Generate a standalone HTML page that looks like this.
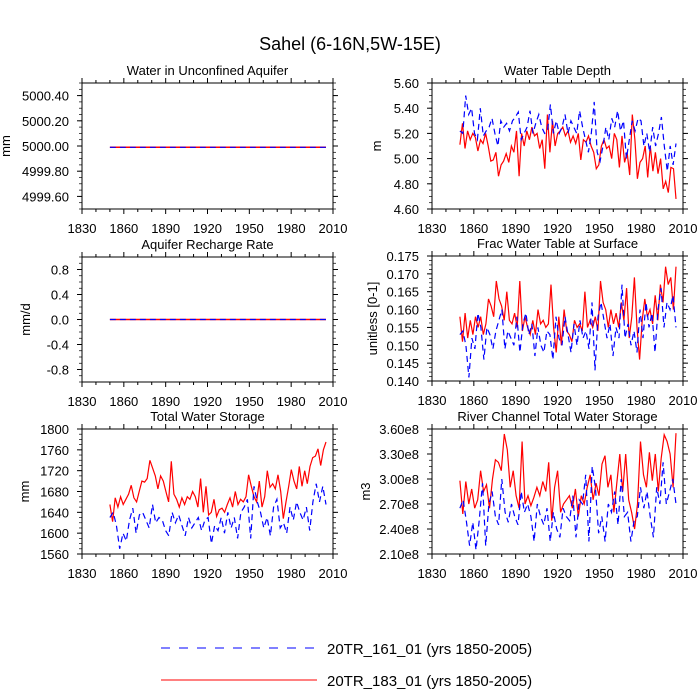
<!DOCTYPE html>
<html><head><meta charset="utf-8"><style>
body{margin:0;background:#fff}
svg{display:block;font-family:"Liberation Sans",Arial,sans-serif}
</style></head><body>
<svg id="c" width="700" height="700" viewBox="0 0 700 700">
<text x="350" y="50" font-size="18" text-anchor="middle">Sahel (6-16N,5W-15E)</text>
<g>
<line x1="161" y1="648" x2="317" y2="648" stroke="#00f" stroke-width="1" stroke-dasharray="9,9"/>
<text x="327" y="654" font-size="15">20TR_161_01 (yrs 1850-2005)</text>
<line x1="161" y1="680" x2="317" y2="680" stroke="#f00" stroke-width="1"/>
<text x="327" y="686" font-size="15">20TR_183_01 (yrs 1850-2005)</text>
</g>
</svg>
<script>
const xTicks=[1830,1860,1890,1920,1950,1980,2010];
const aquiferRed=[4999.99,4999.99,4999.99];
const aquiferBlue=[4999.99,4999.99,4999.99];
const rechargeRed=[0,0,0];
const rechargeBlue=[0,0,0];
const wtdRed=[5.11,5.28,5.08,5.22,5.15,5.20,5.17,5.06,5.15,5.12,5.20,5.10,4.98,4.99,5.05,4.86,4.95,4.98,5.04,4.97,5.10,5.05,5.22,4.86,5.20,5.10,5.22,5.15,5.25,5.18,5.20,5.08,5.15,4.92,5.35,5.05,5.30,5.10,5.20,5.22,5.25,5.18,5.22,5.13,5.18,5.12,5.20,4.99,5.15,5.13,5.18,5.10,5.05,4.92,4.95,5.10,5.15,5.08,5.10,5.00,5.20,5.15,4.93,5.18,4.97,5.05,4.87,5.35,5.15,4.84,4.97,5.00,5.10,4.85,5.10,4.90,5.05,4.88,5.00,4.76,4.82,4.73,4.93,4.92,4.68];
const wtdBlue=[5.22,5.20,5.50,5.35,5.40,5.20,5.15,5.40,5.18,5.22,5.25,5.32,5.20,5.10,5.30,5.25,5.28,5.22,5.30,5.33,5.37,5.15,5.20,5.25,5.38,5.20,5.28,5.35,5.25,5.20,5.22,5.43,5.20,5.30,5.20,5.25,5.35,5.20,5.30,5.25,5.20,5.38,5.25,5.15,5.05,5.20,5.45,5.05,4.98,5.10,5.25,5.15,5.32,5.25,5.38,5.22,5.30,5.00,5.15,5.30,5.22,5.32,5.30,5.10,5.20,5.05,5.25,5.10,5.20,5.33,5.10,4.90,5.10,4.95,5.12];
const fracRed=[0.158,0.151,0.159,0.152,0.157,0.153,0.158,0.155,0.158,0.153,0.156,0.163,0.161,0.158,0.168,0.163,0.161,0.157,0.165,0.157,0.156,0.159,0.155,0.168,0.154,0.158,0.155,0.153,0.157,0.153,0.160,0.156,0.157,0.155,0.156,0.167,0.155,0.148,0.158,0.150,0.160,0.154,0.153,0.151,0.157,0.155,0.156,0.154,0.165,0.155,0.157,0.155,0.158,0.154,0.168,0.162,0.160,0.155,0.160,0.156,0.159,0.155,0.162,0.157,0.166,0.152,0.158,0.169,0.155,0.146,0.157,0.163,0.158,0.160,0.156,0.164,0.157,0.167,0.162,0.172,0.167,0.169,0.160,0.172];
const fracBlue=[0.153,0.154,0.150,0.141,0.152,0.149,0.159,0.155,0.146,0.155,0.153,0.149,0.154,0.157,0.160,0.149,0.154,0.152,0.150,0.158,0.148,0.156,0.159,0.153,0.156,0.147,0.155,0.150,0.148,0.154,0.153,0.146,0.158,0.152,0.150,0.158,0.153,0.148,0.156,0.150,0.157,0.152,0.154,0.149,0.162,0.143,0.158,0.162,0.157,0.152,0.156,0.147,0.155,0.152,0.167,0.152,0.156,0.150,0.154,0.148,0.160,0.152,0.162,0.155,0.159,0.148,0.160,0.166,0.155,0.162,0.160,0.164,0.155];
const twsRed=[1655,1622,1668,1650,1670,1655,1665,1675,1692,1668,1660,1680,1700,1698,1705,1740,1725,1710,1685,1710,1700,1680,1660,1738,1675,1665,1650,1668,1655,1670,1665,1680,1670,1650,1705,1640,1690,1635,1640,1665,1632,1645,1648,1640,1655,1668,1650,1680,1655,1665,1660,1670,1712,1690,1670,1660,1700,1650,1670,1720,1688,1695,1685,1712,1680,1628,1660,1690,1722,1700,1685,1728,1690,1720,1695,1728,1745,1748,1762,1730,1760,1775];
const twsBlue=[1630,1640,1615,1570,1600,1585,1625,1648,1600,1635,1640,1625,1610,1655,1620,1630,1625,1605,1595,1640,1620,1635,1615,1595,1630,1610,1620,1630,1605,1625,1630,1580,1615,1605,1630,1600,1640,1610,1630,1590,1640,1650,1665,1590,1690,1660,1640,1610,1630,1595,1650,1665,1610,1620,1600,1650,1625,1660,1640,1625,1650,1605,1660,1695,1660,1690,1655];
const riverRed=[2.98,2.58,2.97,2.70,2.88,2.65,2.75,3.10,2.85,2.93,2.65,3.00,3.23,3.20,3.10,3.54,3.35,2.90,3.10,2.80,2.65,3.45,2.70,2.80,2.68,2.78,2.90,2.80,2.97,2.85,3.20,2.50,2.90,3.10,2.60,2.70,2.75,2.80,2.65,2.88,2.55,2.80,2.70,2.90,3.05,2.75,2.95,2.80,3.18,3.28,2.90,3.05,2.60,2.95,3.30,2.85,3.30,2.75,2.60,2.40,2.70,3.45,3.05,2.90,3.32,2.98,3.30,2.85,3.25,3.53,3.45,3.30,2.90,3.55];
const riverBlue=[2.65,2.75,2.50,2.20,2.48,2.15,2.50,2.95,2.20,2.70,2.85,2.55,2.45,3.00,2.60,2.48,2.70,2.55,2.45,2.85,2.60,2.70,2.55,2.25,2.70,2.55,2.45,2.65,2.25,2.60,2.40,2.30,2.65,2.55,2.50,2.80,2.30,2.75,2.70,3.05,2.25,3.15,2.90,2.35,2.55,2.25,2.70,2.60,2.85,2.45,3.00,2.55,2.60,2.25,2.50,2.55,2.90,2.65,2.85,2.55,2.30,2.90,2.70,3.20,2.70,2.85,3.00,2.70];
const ticksAquifer=[4999.6,4999.8,5000.0,5000.2,5000.4];
const ticksWtd=[4.6,4.8,5.0,5.2,5.4,5.6];
const ticksRecharge=[-0.8,-0.4,0,0.4,0.8];
const ticksFrac=[0.140,0.145,0.150,0.155,0.160,0.165,0.170,0.175];
const ticksTws=[1560,1600,1640,1680,1720,1760,1800];
const ticksRiver=[2.1,2.4,2.7,3.0,3.3,3.6];

const NS='http://www.w3.org/2000/svg';
const svg=document.getElementById('c');
function mk(tag,attrs,parent){const e=document.createElementNS(NS,tag);for(const k in attrs)e.setAttribute(k,attrs[k]);(parent||svg).appendChild(e);return e;}
const panels=[
 {name:'aquifer',title:'Water in Unconfined Aquifer',yl:'mm',x0:82,y0:83,y1:209,min:4999.5,max:5000.5,ticks:ticksAquifer,fmt:v=>v.toFixed(2),red:aquiferRed,blue:aquiferBlue,ylx:10,flat:true},
 {name:'wtd',title:'Water Table Depth',yl:'m',x0:432,y0:83,y1:209,min:4.6,max:5.6,ticks:ticksWtd,fmt:v=>v.toFixed(2),red:wtdRed,blue:wtdBlue,ylx:381},
 {name:'recharge',title:'Aquifer Recharge Rate',yl:'mm/d',x0:82,y0:257,y1:382,min:-1,max:1,ticks:ticksRecharge,fmt:v=>v.toFixed(1),red:rechargeRed,blue:rechargeBlue,ylx:30,flat:true},
 {name:'frac',title:'Frac Water Table at Surface',yl:'unitless [0-1]',x0:432,y0:256,y1:381,min:0.14,max:0.175,ticks:ticksFrac,fmt:v=>v.toFixed(3),red:fracRed,blue:fracBlue,ylx:377},
 {name:'tws',title:'Total Water Storage',yl:'mm',x0:82,y0:429,y1:554,min:1560,max:1800,ticks:ticksTws,fmt:v=>String(v),red:twsRed,blue:twsBlue,ylx:29},
 {name:'river',title:'River Channel Total Water Storage',yl:'m3',x0:432,y0:429,y1:554,min:2.1,max:3.6,ticks:ticksRiver,fmt:v=>v.toFixed(2)+'e8',red:riverRed,blue:riverBlue,ylx:370}
];
panels.forEach(p=>{
 const W=251,x1=p.x0+W;
 const g=mk('g',{});
 
 
 const xs=y=>p.x0+(y-1830)/180*W;
 const ys=v=>p.y1-(v-p.min)/(p.max-p.min)*(p.y1-p.y0);
 const t=mk('text',{x:(p.x0+x1)/2,y:p.y0-8,'font-size':13,'text-anchor':'middle'},g);t.textContent=p.title;
 
 
 const yt=mk('text',{x:p.ylx,y:(p.y0+p.y1)/2,'font-size':13,'text-anchor':'middle',transform:`rotate(-90 ${p.ylx} ${(p.y0+p.y1)/2})`},g);yt.textContent=p.yl;
 
 
 xTicks.forEach(v=>{
  const x=xs(v);
  mk('line',{x1:x,x2:x,y1:p.y1,y2:p.y1+5,stroke:'#000'},g);
  mk('line',{x1:x,x2:x,y1:p.y0,y2:p.y0-5,stroke:'#000'},g);
  const l=mk('text',{x:x,y:p.y1+24,'font-size':13,'text-anchor':'middle'},g);l.textContent=v;
  
  
 });
 for(let v=1840;v<2010;v+=10){if((v-1830)%30){const x=xs(v);mk('line',{x1:x,x2:x,y1:p.y1,y2:p.y1+3,stroke:'#000'},g);mk('line',{x1:x,x2:x,y1:p.y0,y2:p.y0-3,stroke:'#000'},g);}}
 const step=p.ticks[1]-p.ticks[0];
 p.ticks.forEach((v,i)=>{
  const y=ys(v);
  mk('line',{x1:p.x0-5,x2:p.x0,y1:y,y2:y,stroke:'#000'},g);
  mk('line',{x1:x1,x2:x1+5,y1:y,y2:y,stroke:'#000'},g);
  const l=mk('text',{x:p.x0-13,y:y+5,'font-size':13,'text-anchor':'end'},g);l.textContent=p.fmt(v);
  
  
 });
 for(let v=p.ticks[0]-step;v<=p.max+1e-9;v+=step/4){
  if(v<p.min-1e-9)continue;const y=ys(v);
  mk('line',{x1:p.x0-3,x2:p.x0,y1:y,y2:y,stroke:'#000','stroke-width':0.7},g);
  mk('line',{x1:x1,x2:x1+3,y1:y,y2:y,stroke:'#000','stroke-width':0.7},g);
 }
 mk('rect',{x:p.x0,y:p.y0,width:W,height:p.y1-p.y0,fill:'none',stroke:'#000'},g);
 const path=(arr)=>arr.map((v,i)=>(i?'L':'M')+xs(1850+i*155/(arr.length-1)).toFixed(1)+','+ys(v).toFixed(1)).join('');
 const r=mk('path',{d:path(p.red),fill:'none',stroke:'#f00','stroke-width':p.flat?1.5:1.2},g);
 
 
 const b=mk('path',{d:path(p.blue),fill:'none',stroke:'#00f','stroke-width':1.2,'stroke-dasharray':'6,4'},g);
 
 
});
</script>
</body></html>
